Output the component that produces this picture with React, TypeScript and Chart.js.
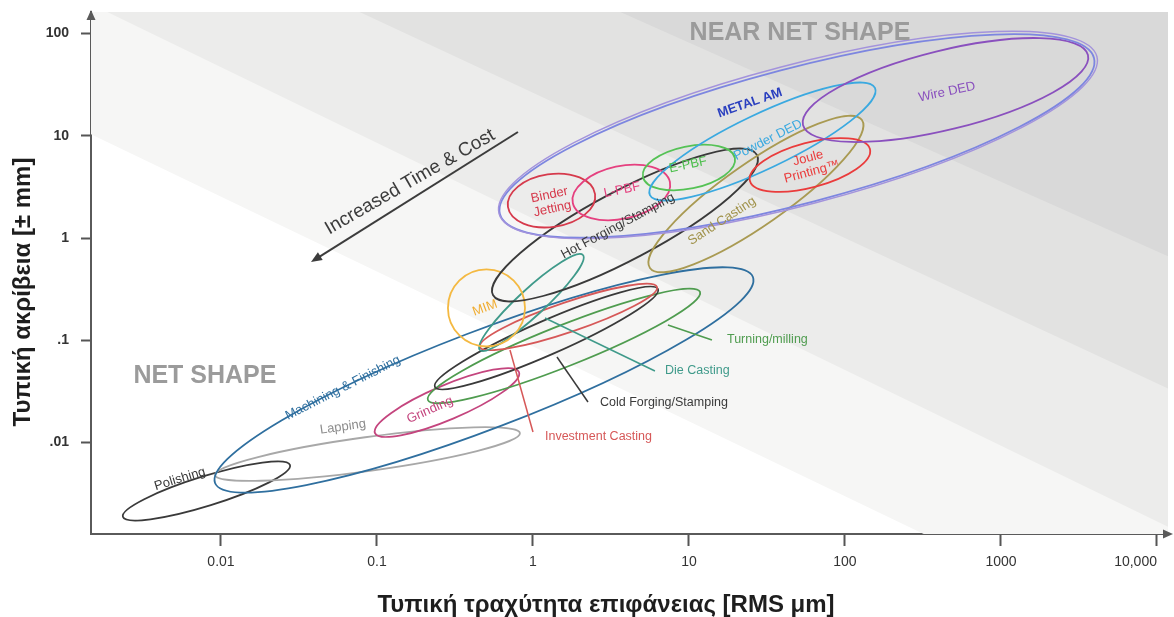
import React, { useEffect, useRef } from 'react';
import { Chart, registerables } from 'chart.js';

Chart.register(...registerables);

const FONT = '"Liberation Sans", Arial, Helvetica, sans-serif';

// axis extents (roughness in RMS µm, tolerance in ± mm)
const X_MIN = 0.001468;
const X_MAX = 11770;
const Y_MIN = 0.001278;
const Y_MAX = 161.9;

const xTickValues = [0.01, 0.1, 1, 10, 100, 1000, 10000];
const xTickLabels = ['0.01', '0.1', '1', '10', '100', '1000', '10,000'];
const yTickValues = [0.01, 0.1, 1, 10, 100];
const yTickLabels = ['.01', '.1', '1', '10', '100'];

// manufacturing processes, each an elliptical capability window
const processNames = [
  'Polishing', 'Lapping', 'Machining & Finishing', 'Grinding', 'Turning/milling',
  'Cold Forging/Stamping', 'Investment Casting', 'Die Casting', 'MIM', 'Hot Forging/Stamping',
  'Sand Casting', 'Binder Jetting', 'L-PBF', 'E-PBF', 'Powder DED', 'Joule Printing™',
  'Wire DED', 'METAL AM',
];
// roughness at the two ends of each window's long axis
const roughnessFrom = [0.00235, 0.00916, 0.00916, 0.0971, 0.212, 0.235, 0.457, 0.457, 0.285, 0.554, 5.62, 0.691, 1.8, 5.07, 5.62, 24.6, 53.8, 0.614];
const roughnessTo = [0.0277, 0.825, 25.7, 0.813, 11.77, 6.33, 6.24, 2.09, 0.889, 27.3, 128.5, 2.5, 7.55, 19.7, 155.7, 144.6, 3612, 3948];
// tolerance at the same two ends
const toleranceFrom = [0.00188, 0.00482, 0.00403, 0.0124, 0.0261, 0.035, 0.086, 0.0804, 0.207, 0.277, 0.509, 2.01, 2.2, 3.95, 2.63, 3.61, 12.72, 1.717];
const toleranceTo = [0.00604, 0.0124, 0.416, 0.049, 0.297, 0.317, 0.332, 0.682, 0.207, 6.48, 14.24, 2.69, 3.53, 6.05, 29.3, 7.41, 61.5, 57.5];
// breadth of each window relative to its length
const windowSpread = [0.17, 0.11, 0.17, 0.22, 0.14, 0.14, 0.16, 0.19, 1.0, 0.23, 0.24, 0.6, 0.53, 0.45, 0.22, 0.36, 0.27, 0.22];
const windowColors = [
  '#3a3a3a', '#a8a8a8', '#2f6f9f', '#c4457e', '#4f9c4f',
  '#3a3a3a', '#d65858', '#3f9a8a', '#f4b942', '#3a3a3a',
  '#a99a52', '#d63a4c', '#e5407f', '#55c255', '#3aa9e0', '#ea3c3c',
  '#8a50be', '#7d86e0',
];

// shaded zones: log10(tol) = zoneOffset - zoneSlope * log10(roughness)
const zoneOffset = [-1.06, 0.19, 1.42, 2.59];
const zoneSlope = [0.732, 0.74, 0.71, 0.68];
const zoneFill = ['#f6f6f5', '#ececeb', '#e2e2e1', '#d9d9d9'];

type Note = {
  text: string; x: number; y: number; angle?: number; color: string;
  size?: number; bold?: boolean; align?: CanvasTextAlign;
};

const notes: Note[] = [
  { text: 'Polishing', x: 0.00546, y: 0.0044, angle: -17, color: '#3a3a3a' },
  { text: 'Lapping', x: 0.0605, y: 0.01422, angle: -8, color: '#8c8c8c' },
  { text: 'Machining & Finishing', x: 0.0605, y: 0.0342, angle: -27, color: '#2f6f9f' },
  { text: 'Grinding', x: 0.2188, y: 0.02084, angle: -24, color: '#c4457e' },
  { text: 'MIM', x: 0.4923, y: 0.207, angle: -20, color: '#f0ac30' },
  { text: 'Hot Forging/Stamping', x: 3.506, y: 1.31, angle: -28, color: '#3a3a3a' },
  { text: 'Sand Casting', x: 16.27, y: 1.466, angle: -33, color: '#a0924a' },
  { text: 'Binder\nJetting', x: 1.304, y: 2.249, angle: -12, color: '#d63a4c' },
  { text: 'L-PBF', x: 3.72, y: 2.945, angle: -12, color: '#e5407f' },
  { text: 'E-PBF', x: 9.85, y: 5.17, angle: -12, color: '#4cbf4c' },
  { text: 'Powder DED', x: 32.1, y: 9.08, angle: -27, color: '#3aa9e0' },
  { text: 'METAL AM', x: 24.6, y: 20.88, angle: -19, color: '#2a3fbf', bold: true },
  { text: 'Joule\nPrinting™', x: 59.7, y: 5.17, angle: -15, color: '#ea3c3c' },
  { text: 'Wire DED', x: 450.8, y: 26.74, angle: -12, color: '#8a50be' },
  { text: 'Investment Casting', x: 1.194, y: 0.01135, color: '#d65858', size: 12.5, align: 'left' },
  { text: 'Cold Forging/Stamping', x: 2.689, y: 0.02438, color: '#3a3a3a', size: 12.5, align: 'left' },
  { text: 'Die Casting', x: 7.02, y: 0.0501, color: '#3f9a8a', size: 12.5, align: 'left' },
  { text: 'Turning/milling', x: 17.52, y: 0.1007, color: '#4f9c4f', size: 12.5, align: 'left' },
  { text: 'NEAR NET SHAPE', x: 51.5, y: 100.9, color: '#9b9b9b', size: 25, bold: true },
  { text: 'NET SHAPE', x: 0.00789, y: 0.0448, color: '#9b9b9b', size: 25, bold: true },
  { text: 'Increased Time & Cost', x: 0.1629, y: 3.53, angle: -30, color: '#3c3c3c', size: 19 },
];

// callout lines from a window to its label
const leaders = [
  { from: [0.712, 0.0804], to: [1.0, 0.0127], color: '#d65858' },
  { from: [1.425, 0.0687], to: [2.252, 0.02494], color: '#3a3a3a' },
  { from: [1.194, 0.1652], to: [6.05, 0.0501], color: '#3f9a8a' },
  { from: [7.33, 0.1412], to: [14.04, 0.1007], color: '#4f9c4f' },
];

// "Increased Time & Cost" direction arrow
const trendFrom = [0.801, 10.87];
const trendTo = [0.03776, 0.5826];

const tickText = (v: number, values: number[], labels: string[]) => {
  const i = values.findIndex((t) => Math.abs(Math.log10(t) - Math.log10(v)) < 1e-6);
  return i >= 0 ? labels[i] : '';
};

const clipArea = (chart: any) => {
  const { ctx, chartArea: ca } = chart;
  ctx.beginPath();
  ctx.rect(ca.left, ca.top, ca.right - ca.left, ca.bottom - ca.top);
  ctx.clip();
};

const zonesPlugin = {
  id: 'zones',
  beforeDatasetsDraw(chart: any) {
    const { ctx, chartArea: ca, scales } = chart;
    const xs = scales.x;
    const ys = scales.y;
    ctx.save();
    clipArea(chart);
    zoneOffset.forEach((c, i) => {
      const k = zoneSlope[i];
      const tolAt = (r: number) => Math.pow(10, c - k * Math.log10(r));
      ctx.beginPath();
      ctx.moveTo(xs.getPixelForValue(X_MIN), ys.getPixelForValue(tolAt(X_MIN)));
      ctx.lineTo(xs.getPixelForValue(X_MAX), ys.getPixelForValue(tolAt(X_MAX)));
      ctx.lineTo(ca.right + 10, ca.top - 3000);
      ctx.lineTo(ca.left - 10, ca.top - 3000);
      ctx.closePath();
      ctx.fillStyle = zoneFill[i];
      ctx.fill();
    });
    ctx.restore();
  },
};

const windowsPlugin = {
  id: 'windows',
  afterDatasetsDraw(chart: any) {
    const { ctx } = chart;
    ctx.save();
    clipArea(chart);
    chart.data.datasets.forEach((ds: any, i: number) => {
      const pts = chart.getDatasetMeta(i).data;
      if (!pts || pts.length < 2) return;
      const x0 = pts[0].x, y0 = pts[0].y, x1 = pts[1].x, y1 = pts[1].y;
      const cx = (x0 + x1) / 2;
      const cy = (y0 + y1) / 2;
      const a = Math.hypot(x1 - x0, y1 - y0) / 2;
      const rot = Math.atan2(y1 - y0, x1 - x0);
      const b = a * ds.spread;
      ctx.lineWidth = 1.8;
      ctx.strokeStyle = ds.borderColor;
      ctx.beginPath();
      ctx.ellipse(cx, cy, a, b, rot, 0, Math.PI * 2);
      ctx.stroke();
      if (ds.doubled) {
        ctx.lineWidth = 1.4;
        ctx.strokeStyle = '#a393dc';
        ctx.beginPath();
        ctx.ellipse(cx + 1, cy - 1, a + 2, b + 2.5, rot, 0, Math.PI * 2);
        ctx.stroke();
      }
    });
    ctx.restore();
  },
};

const drawArrowHead = (ctx: CanvasRenderingContext2D, tx: number, ty: number, ang: number, len: number, half: number) => {
  ctx.beginPath();
  ctx.moveTo(tx, ty);
  ctx.lineTo(tx - len * Math.cos(ang) + half * Math.sin(ang), ty - len * Math.sin(ang) - half * Math.cos(ang));
  ctx.lineTo(tx - len * Math.cos(ang) - half * Math.sin(ang), ty - len * Math.sin(ang) + half * Math.cos(ang));
  ctx.closePath();
  ctx.fill();
};

const notesPlugin = {
  id: 'notes',
  afterDraw(chart: any) {
    const { ctx, chartArea: ca, scales } = chart;
    const xs = scales.x;
    const ys = scales.y;
    const px = (v: number) => xs.getPixelForValue(v);
    const py = (v: number) => ys.getPixelForValue(v);

    ctx.save();
    // leader lines
    ctx.lineWidth = 1.5;
    leaders.forEach((l) => {
      ctx.strokeStyle = l.color;
      ctx.beginPath();
      ctx.moveTo(px(l.from[0]), py(l.from[1]));
      ctx.lineTo(px(l.to[0]), py(l.to[1]));
      ctx.stroke();
    });

    // trend arrow
    const ax0 = px(trendFrom[0]), ay0 = py(trendFrom[1]);
    const ax1 = px(trendTo[0]), ay1 = py(trendTo[1]);
    const tAng = Math.atan2(ay1 - ay0, ax1 - ax0);
    ctx.strokeStyle = '#3c3c3c';
    ctx.fillStyle = '#3c3c3c';
    ctx.lineWidth = 2;
    ctx.beginPath();
    ctx.moveTo(ax0, ay0);
    ctx.lineTo(ax1 - 6 * Math.cos(tAng), ay1 - 6 * Math.sin(tAng));
    ctx.stroke();
    drawArrowHead(ctx, ax1, ay1, tAng, 11, 4.5);

    // text annotations
    notes.forEach((n) => {
      const size = n.size ?? 13;
      ctx.save();
      ctx.translate(px(n.x), py(n.y));
      ctx.rotate(((n.angle ?? 0) * Math.PI) / 180);
      ctx.font = `${n.bold ? 'bold ' : ''}${size}px ${FONT}`;
      ctx.fillStyle = n.color;
      ctx.textAlign = n.align ?? 'center';
      ctx.textBaseline = 'middle';
      const lines = n.text.split('\n');
      const lh = size * 1.1;
      lines.forEach((line, i) => ctx.fillText(line, 0, (i - (lines.length - 1) / 2) * lh));
      ctx.restore();
    });

    // axis arrowheads
    ctx.fillStyle = '#5a5a5a';
    drawArrowHead(ctx, ca.left, ca.top - 2, -Math.PI / 2, 10, 4.5);
    drawArrowHead(ctx, ca.right + 5, ca.bottom, 0, 10, 4.5);

    // axis titles
    ctx.fillStyle = '#1e1e1e';
    ctx.font = `bold 24px ${FONT}`;
    ctx.textAlign = 'center';
    ctx.textBaseline = 'alphabetic';
    ctx.fillText('Τυπική τραχύτητα επιφάνειας [RMS μm]', 606, 612);
    ctx.save();
    ctx.translate(30, 292);
    ctx.rotate(-Math.PI / 2);
    ctx.fillText('Τυπική ακρίβεια [± mm]', 0, 0);
    ctx.restore();

    ctx.restore();
  },
};

export default function App() {
  const canvasRef = useRef<HTMLCanvasElement>(null);

  useEffect(() => {
    const canvas = canvasRef.current;
    if (!canvas) return;
    const datasets = processNames.map((name, i) => ({
      label: name,
      data: [
        { x: roughnessFrom[i], y: toleranceFrom[i] },
        { x: roughnessTo[i], y: toleranceTo[i] },
      ],
      pointRadius: 0,
      pointHoverRadius: 0,
      showLine: false,
      borderColor: windowColors[i],
      backgroundColor: windowColors[i],
      spread: windowSpread[i],
      doubled: name === 'METAL AM',
    }));

    const chart = new Chart(canvas, {
      type: 'scatter',
      data: { datasets } as any,
      options: {
        responsive: false,
        animation: false,
        events: [],
        layout: { padding: { top: 12, right: 6, left: 0, bottom: 0 } },
        plugins: { legend: { display: false }, tooltip: { enabled: false } },
        scales: {
          x: {
            type: 'logarithmic',
            position: 'bottom',
            min: X_MIN,
            max: X_MAX,
            afterBuildTicks: (s: any) => {
              s.ticks = [X_MIN, ...xTickValues].map((v) => ({ value: v }));
            },
            afterFit: (s: any) => {
              s.height = 83;
              s.paddingLeft = 0;
              s.paddingRight = 0;
            },
            ticks: {
              align: 'inner',
              autoSkip: false,
              maxRotation: 0,
              padding: 8,
              color: '#333333',
              font: { family: FONT, size: 14 },
              callback: (v: any) => tickText(Number(v), xTickValues, xTickLabels),
            },
            grid: {
              drawOnChartArea: false,
              drawTicks: true,
              tickLength: 12,
              tickWidth: 2,
              tickColor: (c: any) => (c.index === 0 ? 'rgba(0,0,0,0)' : '#555555'),
            },
            border: { display: true, color: '#5a5a5a', width: 2 },
          },
          y: {
            type: 'logarithmic',
            min: Y_MIN,
            max: Y_MAX,
            afterBuildTicks: (s: any) => {
              s.ticks = yTickValues.map((v) => ({ value: v }));
            },
            afterFit: (s: any) => {
              s.width = 91;
              s.paddingTop = 0;
              s.paddingBottom = 0;
            },
            ticks: {
              autoSkip: false,
              padding: 12,
              color: '#333333',
              font: { family: FONT, size: 14, weight: 'bold' },
              callback: (v: any) => tickText(Number(v), yTickValues, yTickLabels),
            },
            grid: {
              drawOnChartArea: false,
              drawTicks: true,
              tickLength: 10,
              tickWidth: 2,
              tickColor: '#555555',
            },
            border: { display: true, color: '#5a5a5a', width: 2 },
          },
        },
      } as any,
      plugins: [zonesPlugin, windowsPlugin, notesPlugin],
    });

    return () => chart.destroy();
  }, []);

  return (
    <div style={{ position: 'fixed', left: 0, top: 0, width: 1174, height: 617, background: '#ffffff' }}>
      <canvas ref={canvasRef} width={1174} height={617} style={{ display: 'block', width: 1174, height: 617 }} />
    </div>
  );
}
